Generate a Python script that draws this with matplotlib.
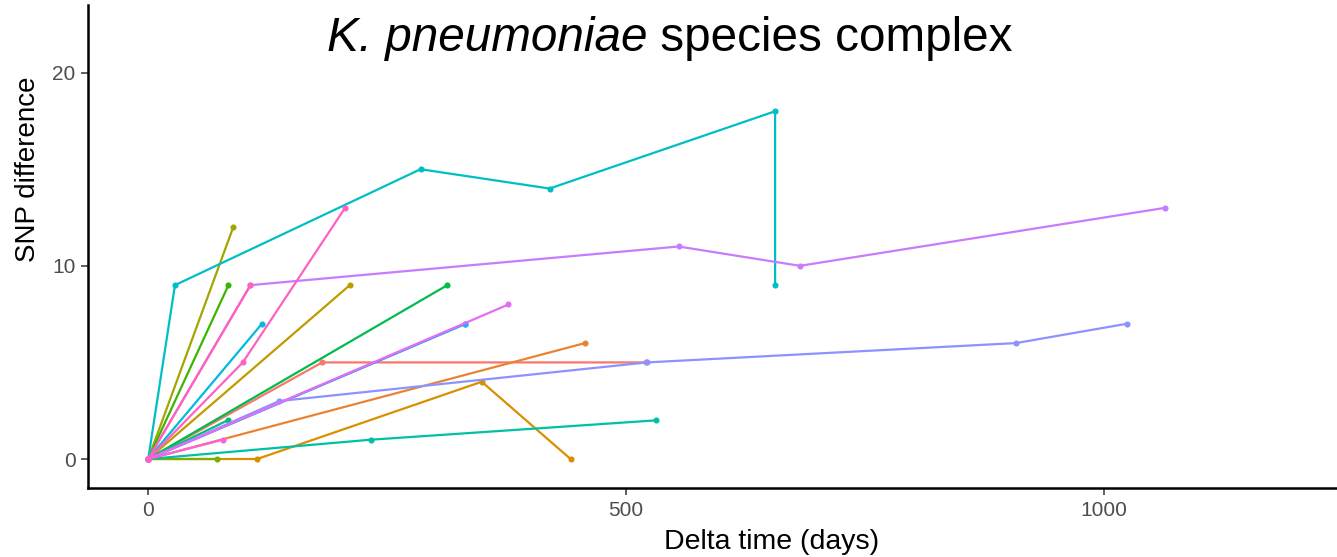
import matplotlib
matplotlib.use("Agg")
import matplotlib.pyplot as plt

plt.rcParams["font.family"] = ["Liberation Sans", "DejaVu Sans"]

# one entry per patient/clone: days since first isolate, SNP difference
series_colors = [
    "#F8766D", "#EA8331", "#D89000", "#C09B00", "#A3A500", "#7CAE00",
    "#39B600", "#00BB4E", "#00BF7D", "#00C1A3", "#00BFC4", "#00BAE0",
    "#00B0F6", "#35A2FF", "#8B93FF", "#C77CFF", "#E76BF3", "#FA62DB",
    "#FF62BC", "#FF61C3",
]
series_days = [
    [0, 182, 521],
    [0, 457],
    [0, 114, 349, 442],
    [0, 211],
    [0, 89],
    [0, 72],
    [0, 84],
    [0, 313],
    [0, 83],
    [0, 233, 531],
    [0, 28, 285, 420, 656, 656],
    [0, 119],
    [0, 332],
    [0, 332],
    [0, 137, 522, 908, 1024],
    [0, 107, 555, 682, 1064],
    [0, 377],
    [0, 78],
    [0, 107],
    [0, 99, 206],
]
series_snps = [
    [0, 5, 5],
    [0, 6],
    [0, 0, 4, 0],
    [0, 9],
    [0, 12],
    [0, 0],
    [0, 9],
    [0, 9],
    [0, 2],
    [0, 1, 2],
    [0, 9, 15, 14, 18, 9],
    [0, 7],
    [0, 7],
    [0, 7],
    [0, 3, 5, 6, 7],
    [0, 9, 11, 10, 13],
    [0, 8],
    [0, 1],
    [0, 9],
    [0, 5, 13],
]

fig = plt.figure(figsize=(13.37, 5.57), dpi=100)
ax = fig.add_axes([88 / 1337, 69 / 557, 1249 / 1337, 483 / 557])

for days, snps, col in zip(series_days, series_snps, series_colors):
    ax.plot(days, snps, color=col, lw=1.6, marker="o", markersize=4.4,
            markeredgewidth=0, solid_capstyle="butt")

ax.set_xlim(-63, 1244)
ax.set_ylim(-1.5, 23.5)
ax.set_xticks([0, 500, 1000])
ax.set_yticks([0, 10, 20])

for side in ["top", "right"]:
    ax.spines[side].set_visible(False)
for side in ["left", "bottom"]:
    ax.spines[side].set_linewidth(1.8)
ax.tick_params(axis="both", length=5, width=1.1, color="#333333",
               labelcolor="#4D4D4D", labelsize=15, pad=4)

ax.set_xlabel("Delta time (days)", fontsize=20.5)
ax.set_ylabel("SNP difference", fontsize=20)
ax.xaxis.set_label_coords(0.547, -0.085)
ax.yaxis.set_label_coords(-0.038, 0.66)

# title: italic species name followed by plain text
t1 = ax.text(187, 21.1, "K. pneumoniae", fontsize=34.3, fontstyle="italic",
             ha="left", va="baseline")
ax.annotate(" species complex", xy=(1, 0), xycoords=t1, fontsize=34.3,
            ha="left", va="bottom")

fig.savefig("out.png", dpi=100)
